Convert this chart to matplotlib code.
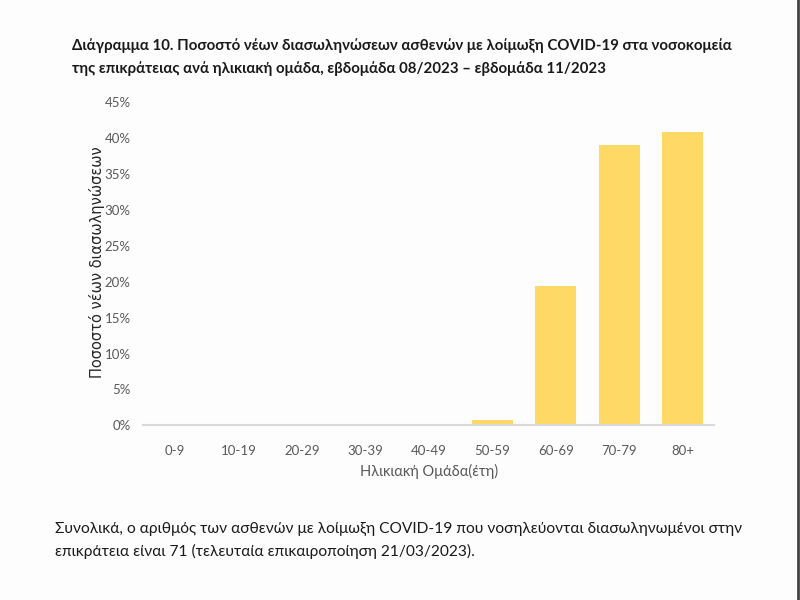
import matplotlib
matplotlib.use("Agg")
import matplotlib.pyplot as plt
from matplotlib.ticker import PercentFormatter, MultipleLocator
from matplotlib.lines import Line2D

categories = ["0-9", "10-19", "20-29", "30-39", "40-49", "50-59", "60-69", "70-79", "80+"]
values = [0.0, 0.0, 0.0, 0.0, 0.0, 0.8, 19.4, 39.0, 40.8]

title = ("Διάγραμμα 10. Ποσοστό νέων διασωληνώσεων ασθενών με λοίμωξη COVID-19 στα νοσοκομεία\n"
         "της επικράτειας ανά ηλικιακή ομάδα, εβδομάδα 08/2023 – εβδομάδα 11/2023")
footer = ("Συνολικά, ο αριθμός των ασθενών με λοίμωξη COVID-19 που νοσηλεύονται διασωληνωμένοι στην\n"
          "επικράτεια είναι 71 (τελευταία επικαιροποίηση 21/03/2023).")
xlabel = "Ηλικιακή Ομάδα(έτη)"
ylabel = "Ποσοστό νέων διασωληνώσεων"

narrow = ["Lato", "DejaVu Sans"]

fig = plt.figure(figsize=(8, 6), dpi=100)
fig.patch.set_facecolor("#FDFDFD")
ax = fig.add_axes([0.179, 0.291, 0.714, 0.539])
ax.set_facecolor("#FDFDFD")

ax.bar(range(len(categories)), values, width=0.645, color="#FFD966")
ax.set_xlim(-0.5, len(categories) - 0.5)
ax.set_ylim(0, 45)
ax.yaxis.set_major_locator(MultipleLocator(5))
ax.yaxis.set_major_formatter(PercentFormatter(decimals=0))
ax.set_xticks(range(len(categories)))
ax.set_xticklabels(categories)

for s in ["top", "right", "left"]:
    ax.spines[s].set_visible(False)
ax.spines["bottom"].set_color("#D9D9D9")
ax.spines["bottom"].set_linewidth(1.5)
ax.tick_params(axis="both", length=0, colors="#595959", labelsize=9.5)
ax.tick_params(axis="x", pad=14)
ax.tick_params(axis="y", pad=9)
for lbl in ax.get_xticklabels() + ax.get_yticklabels():
    lbl.set_family(narrow)

ax.set_xlabel(xlabel, fontsize=10.5, color="#595959", family=narrow, labelpad=5)
fig.text(0.121, 0.563, ylabel, rotation=90, ha="center", va="center",
         fontsize=10.5, color="#262626", family=["DejaVu Sans"])

fig.text(0.09, 0.905, title, ha="left", va="center", fontsize=10.8,
         fontweight="bold", color="#1a1a1a", family=narrow, linespacing=1.75)
fig.text(0.069, 0.099, footer, ha="left", va="center", fontsize=11.2,
         color="#1a1a1a", family=narrow, linespacing=1.7)

fig.add_artist(Line2D([0.9975, 0.9975], [0, 1], transform=fig.transFigure,
                      color="#444444", linewidth=2))

fig.savefig("out.png", dpi=100, facecolor=fig.get_facecolor())
